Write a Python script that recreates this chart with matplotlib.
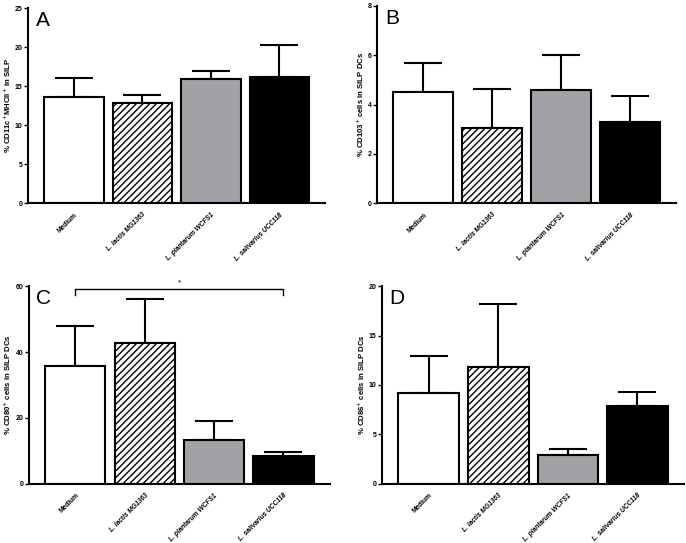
import matplotlib
matplotlib.use('Agg')
import matplotlib.pyplot as plt
import numpy as np

plt.rcParams['font.family'] = ['Liberation Sans', 'DejaVu Sans']
plt.rcParams['hatch.linewidth'] = 1.0

groups = ['Medium', 'L. lactis MG1363', 'L. plantarum WCFS1', 'L. salivarius UCC118']

# panel A: % CD11c+MHCII+ in SILP
a_mean = [13.6, 12.8, 15.9, 16.2]
a_top = [16.0, 13.9, 17.0, 20.3]
# panel B: % CD103+ cells in SILP DCs
b_mean = [4.5, 3.05, 4.6, 3.3]
b_top = [5.7, 4.65, 6.0, 4.33]
# panel C: % CD80+ cells in SILP DCs
c_mean = [35.7, 42.7, 13.2, 8.4]
c_top = [48.0, 56.0, 19.0, 9.8]
# panel D: % CD86+ cells in SILP DCs
d_mean = [9.2, 11.85, 2.9, 7.85]
d_top = [12.9, 18.2, 3.5, 9.3]

colors = ['white', 'white', '#a2a2a6', 'black']
hatches = ['', '/////', '', '']


def draw_panel(ax, mean, top, ymax, step, ylabel, letter):
    x = np.arange(len(groups))
    err = np.array(top) - np.array(mean)
    ax.errorbar(x, mean, yerr=[np.zeros(len(x)), err], fmt='none',
                ecolor='black', elinewidth=1.5, capsize=14, capthick=1.5, zorder=1)
    for i in range(len(x)):
        ax.bar(x[i], mean[i], width=0.87, color=colors[i], edgecolor='black',
               linewidth=1.5, hatch=hatches[i], zorder=2)
    ax.set_xlim(-0.67, 3.67)
    ax.set_ylim(0, ymax)
    ax.set_yticks(np.arange(0, ymax + 0.01, step))
    for s in ['top', 'right']:
        ax.spines[s].set_visible(False)
    for s in ['left', 'bottom']:
        ax.spines[s].set_linewidth(1.5)
    ax.tick_params(axis='y', labelsize=5, width=1, length=3, pad=1)
    ax.tick_params(axis='x', length=0, pad=6)
    for t in ax.get_yticklabels():
        t.set_fontweight('bold')
    ax.set_xticks(x)
    ax.set_xticklabels(groups, rotation=45, ha='right', rotation_mode='anchor',
                       fontsize=4.8, fontweight='bold')
    for i, t in enumerate(ax.get_xticklabels()):
        if i > 0:
            t.set_fontstyle('italic')
    ax.set_ylabel(ylabel, fontsize=5.6, fontweight='bold', labelpad=1.5)
    ax.text(0.025, 0.985, letter, transform=ax.transAxes, fontsize=15,
            va='top', ha='left')


fig = plt.figure(figsize=(6.86, 5.43), dpi=100)
axA = fig.add_axes([0.041, 0.626, 0.433, 0.359])
axB = fig.add_axes([0.550, 0.626, 0.436, 0.363])
axC = fig.add_axes([0.042, 0.109, 0.439, 0.364])
axD = fig.add_axes([0.557, 0.109, 0.440, 0.364])

draw_panel(axA, a_mean, a_top, 25, 5, '% CD11c$^{+}$MHCII$^{+}$ in SILP', 'A')
draw_panel(axB, b_mean, b_top, 8, 2, '% CD103$^{+}$ cells in SILP DCs', 'B')
draw_panel(axC, c_mean, c_top, 60, 20, '% CD80$^{+}$ cells in SILP DCs', 'C')
draw_panel(axD, d_mean, d_top, 20, 5, '% CD86$^{+}$ cells in SILP DCs', 'D')

# significance bracket Medium vs L. salivarius
axC.plot([0, 0, 3, 3], [57.2, 59, 59, 57.2], color='black', lw=1, clip_on=False)
axC.text(1.5, 60.0, '*', ha='center', va='bottom', fontsize=6, clip_on=False)

fig.savefig('out.png', dpi=100)
